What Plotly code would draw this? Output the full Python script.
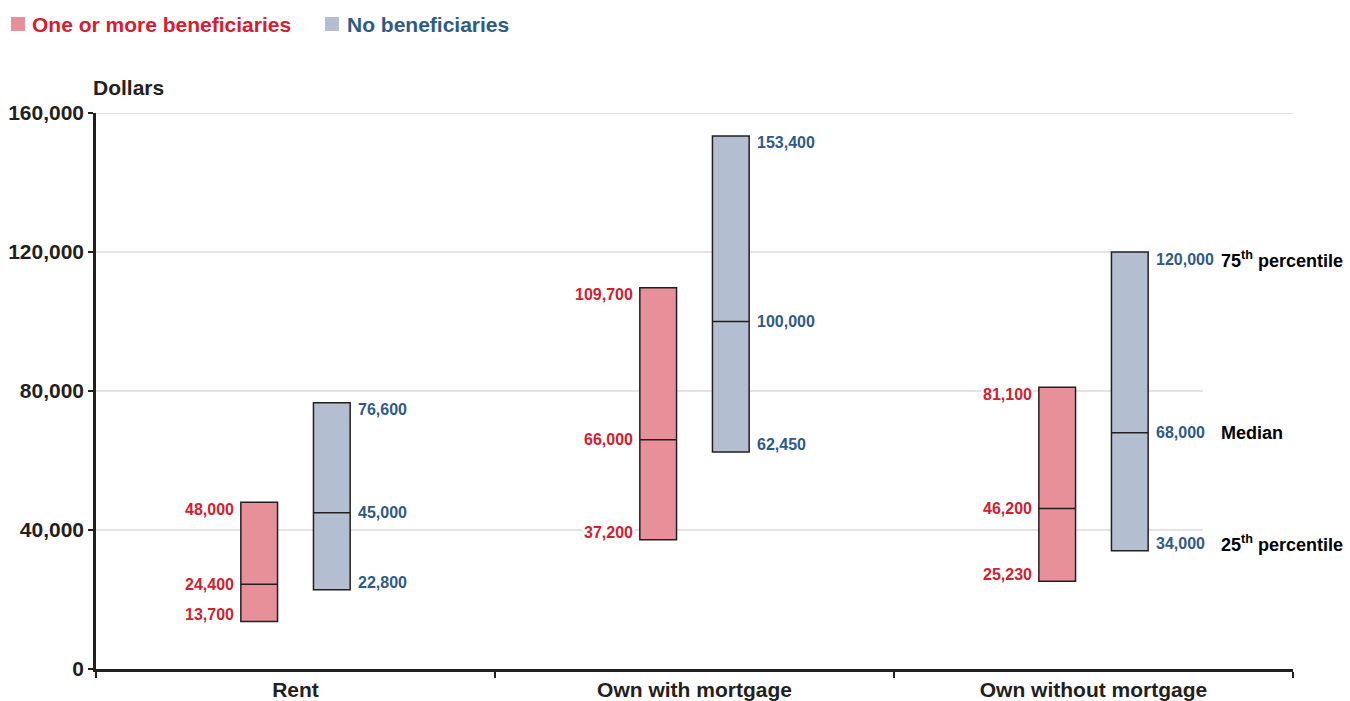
import plotly.graph_objects as go

# ---- data ----
categories = ["Rent", "Own with mortgage", "Own without mortgage"]
red_q25 = [13700, 37200, 25230]
red_med = [24400, 66000, 46200]
red_q75 = [48000, 109700, 81100]
blue_q25 = [22800, 62450, 34000]
blue_med = [45000, 100000, 68000]
blue_q75 = [76600, 153400, 120000]
series_names = ["One or more beneficiaries", "No beneficiaries"]
y_ticks = [0, 40000, 80000, 120000, 160000]
side_labels = ["75<sup>th</sup> percentile", "Median", "25<sup>th</sup> percentile"]

# ---- styles ----
RED_FILL = "#e8909a"
BLUE_FILL = "#b3bfd0"
RED_TEXT = "#d2202f"
BLUE_TEXT = "#2f5a87"
INK = "#231f20"
GRID = "#c8c8c8"
FONT = "Liberation Sans, Arial, sans-serif"

BOX_W = 0.092
OFF = 0.091
centers = [i + 0.5 for i in range(len(categories))]
red_x = [c - OFF for c in centers]
blue_x = [c + OFF for c in centers]

fig = go.Figure()

def add_boxes(xs, q25, med, q75, fill, name):
    fig.add_trace(go.Bar(
        x=xs, base=q25, y=[h - l for h, l in zip(q75, q25)],
        width=BOX_W, marker=dict(color=fill, line=dict(color=INK, width=1.5)),
        name=name, showlegend=False, hoverinfo="skip"))
    lx, ly = [], []
    for x, m in zip(xs, med):
        lx += [x - BOX_W / 2, x + BOX_W / 2, None]
        ly += [m, m, None]
    fig.add_trace(go.Scatter(x=lx, y=ly, mode="lines",
                             line=dict(color=INK, width=1.5),
                             showlegend=False, hoverinfo="skip"))

add_boxes(red_x, red_q25, red_med, red_q75, RED_FILL, series_names[0])
add_boxes(blue_x, blue_q25, blue_med, blue_q75, BLUE_FILL, series_names[1])

annotations = []
val_font_red = dict(family=FONT, size=16, color=RED_TEXT, weight="bold")
val_font_blue = dict(family=FONT, size=16, color=BLUE_TEXT, weight="bold")

for i in range(len(categories)):
    for v, ys in ((red_q75[i], -7), (red_med[i], 0), (red_q25[i], 7)):
        annotations.append(dict(x=red_x[i] - BOX_W / 2, y=v, xref="x", yref="y",
                                text=f"{v:,}", showarrow=False, xanchor="right",
                                yanchor="middle", xshift=-5, yshift=ys,
                                font=val_font_red, bgcolor="white", borderpad=1))
    for v, ys in ((blue_q75[i], -7), (blue_med[i], 0), (blue_q25[i], 7)):
        annotations.append(dict(x=blue_x[i] + BOX_W / 2, y=v, xref="x", yref="y",
                                text=f"{v:,}", showarrow=False, xanchor="left",
                                yanchor="middle", xshift=6, yshift=ys,
                                font=val_font_blue, bgcolor="white", borderpad=1))

last = len(categories) - 1
for txt, v, ys in zip(side_labels, (blue_q75[last], blue_med[last], blue_q25[last]), (-7, 0, 7)):
    annotations.append(dict(x=2.822, y=v, xref="x", yref="y", text=txt,
                            showarrow=False, xanchor="left", yanchor="middle",
                            xshift=-3, yshift=ys,
                            font=dict(family=FONT, size=18, color="black", weight="bold")))

annotations.append(dict(x=-0.004, y=1.045, xref="paper", yref="paper", text="Dollars",
                        showarrow=False, xanchor="left", yanchor="middle",
                        font=dict(family=FONT, size=21, color=INK, weight="bold")))

def px_to_paper_x(px):
    return (px - 96) / 1197
def px_to_paper_y(py):
    return (669 - py) / 556

shapes = []
leg = [(11, series_names[0], RED_FILL, RED_TEXT, 30), (325, series_names[1], BLUE_FILL, BLUE_TEXT, 345)]
for sx, name, fill, tcol, tx in leg:
    shapes.append(dict(type="rect", xref="paper", yref="paper",
                       x0=px_to_paper_x(sx), x1=px_to_paper_x(sx + 14),
                       y0=px_to_paper_y(31), y1=px_to_paper_y(17),
                       fillcolor=fill, line=dict(width=0)))
    annotations.append(dict(x=px_to_paper_x(tx), y=px_to_paper_y(24), xref="paper", yref="paper",
                            text=name, showarrow=False, xanchor="left", yanchor="middle",
                            font=dict(family=FONT, size=21, color=tcol, weight="bold")))

grid_ext = {160000: 3.0, 120000: 2.546, 80000: 2.774, 40000: 2.774}
for yv in y_ticks[1:]:
    shapes.append(dict(type="line", xref="x", yref="y", x0=0, x1=grid_ext[yv], y0=yv, y1=yv,
                       line=dict(color=GRID, width=1.2), layer="below"))

fig.update_layout(
    width=1350, height=701,
    margin=dict(l=96, r=57, t=113, b=32),
    paper_bgcolor="white", plot_bgcolor="white",
    barmode="overlay",
    showlegend=False,
    annotations=annotations,
    shapes=shapes,
    font=dict(family=FONT, color=INK),
)
fig.update_xaxes(range=[0, 3], showgrid=False, zeroline=False, automargin=False,
                 showline=True, linecolor=INK, linewidth=3,
                 tickmode="array", tickvals=centers, ticktext=categories, ticks="",
                 ticklabelstandoff=0,
                 tickfont=dict(family=FONT, size=21, color=INK, weight="bold"),
                 minor=dict(tickmode="array", tickvals=[0, 1, 2, 3], ticks="outside",
                            ticklen=6, tickwidth=1.5, tickcolor=INK, showgrid=False))
fig.update_yaxes(range=[0, 160000], showgrid=False, zeroline=False, automargin=False,
                 showline=True, linecolor=INK, linewidth=2.5,
                 tickmode="array", tickvals=y_ticks, tickformat=",",
                 ticks="outside", ticklen=5, tickwidth=1.5, tickcolor=INK,
                 tickfont=dict(family=FONT, size=21, color=INK, weight="bold"))

fig.write_html("out.html")
